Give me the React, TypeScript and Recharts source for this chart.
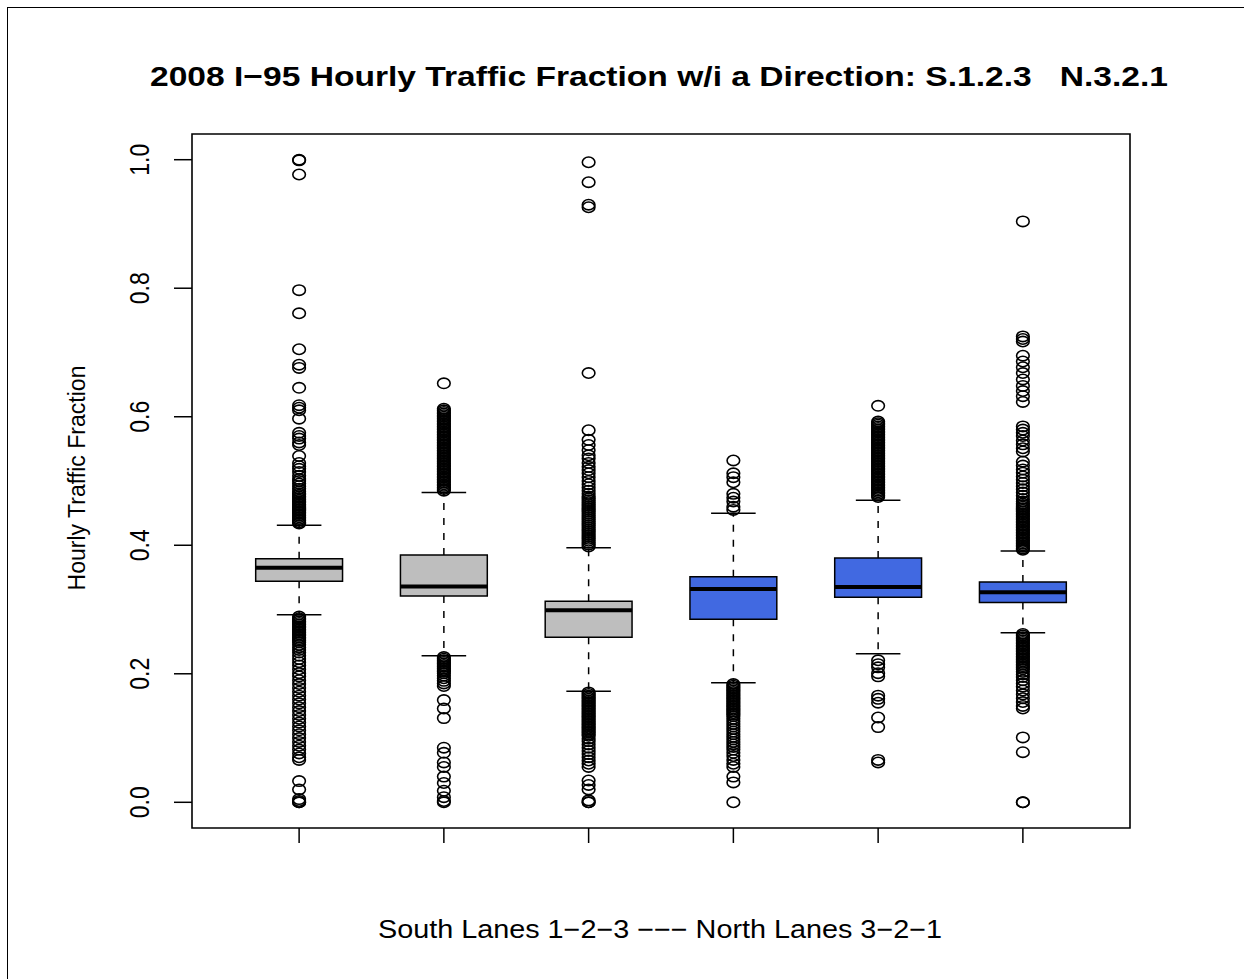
import React from 'react';
import { ScatterChart, Scatter, XAxis, YAxis, ReferenceArea, ReferenceLine } from 'recharts';

const FONT = '"Liberation Sans", Arial, Helvetica, sans-serif';

// lanes: South 1-2-3, then North 3-2-1
const GROUPS = [1, 2, 3, 4, 5, 6];
const BOX_FILL = ['#bebebe', '#bebebe', '#bebebe', '#4169e1', '#4169e1', '#4169e1'];

// box statistics per lane
const LOWER_WHISKER = [0.292, 0.228, 0.173, 0.186, 0.231, 0.264];
const Q1 = [0.344, 0.321, 0.257, 0.285, 0.319, 0.311];
const MEDIAN = [0.365, 0.336, 0.299, 0.332, 0.335, 0.327];
const Q3 = [0.379, 0.385, 0.313, 0.351, 0.380, 0.343];
const UPPER_WHISKER = [0.431, 0.482, 0.396, 0.450, 0.470, 0.391];

// outliers per lane
const OUT_S1 = [
  1.0, 0.999, 0.977, 0.797, 0.761, 0.705, 0.681, 0.676, 0.645, 0.618, 0.614, 0.61, 0.597,
  0.575, 0.57, 0.566, 0.56, 0.556, 0.539, 0.528, 0.523, 0.519, 0.514, 0.508, 0.503,
  0.5, 0.496, 0.492, 0.488, 0.484,
  0.481, 0.4785, 0.476, 0.4735, 0.471, 0.4685, 0.466, 0.4635, 0.461, 0.4585, 0.456, 0.4535,
  0.451, 0.4485, 0.446, 0.4435, 0.441, 0.4385, 0.436, 0.434,
  0.289, 0.2865, 0.284, 0.2815, 0.279, 0.2765, 0.274, 0.2715, 0.269, 0.2665, 0.264, 0.2615,
  0.259, 0.2565, 0.254, 0.2515, 0.249,
  0.245, 0.241, 0.237, 0.233, 0.228, 0.223, 0.218, 0.213, 0.207, 0.201, 0.196, 0.19, 0.184,
  0.178, 0.172, 0.166, 0.16, 0.154, 0.148, 0.142, 0.136, 0.13, 0.124, 0.118, 0.112, 0.106,
  0.1, 0.094, 0.088, 0.082, 0.076, 0.07, 0.066,
  0.033, 0.02, 0.005, 0.002, 0.0, 0.0,
];
const OUT_S2 = [
  0.652,
  0.6125, 0.61, 0.6075, 0.605, 0.6025, 0.6, 0.5975, 0.595, 0.5925, 0.59, 0.5875, 0.585,
  0.5825, 0.58, 0.5775, 0.575, 0.5725, 0.57, 0.5675, 0.565, 0.5625, 0.56, 0.5575, 0.555,
  0.5525, 0.55, 0.5475, 0.545, 0.5425, 0.54, 0.5375, 0.535, 0.5325, 0.53, 0.5275, 0.525,
  0.5225, 0.52, 0.5175, 0.515, 0.5125, 0.51, 0.5075, 0.505, 0.5025, 0.5, 0.4975, 0.495,
  0.4925, 0.49, 0.4875, 0.485,
  0.226, 0.2235, 0.221, 0.2185, 0.216, 0.2135, 0.211, 0.2085, 0.206, 0.2035, 0.201,
  0.197, 0.193, 0.189, 0.185, 0.181, 0.159, 0.146, 0.131,
  0.085, 0.077, 0.062, 0.055, 0.04, 0.03, 0.018, 0.008, 0.002, 0.0,
];
const OUT_S3 = [
  0.996, 0.965, 0.93, 0.926, 0.668, 0.579, 0.564, 0.556, 0.548, 0.54, 0.535, 0.528, 0.522,
  0.517, 0.512, 0.506, 0.5, 0.495, 0.49, 0.485, 0.48,
  0.476, 0.473, 0.47, 0.467, 0.464, 0.461, 0.458, 0.455, 0.452, 0.449, 0.446, 0.443, 0.44,
  0.437, 0.434, 0.431, 0.428, 0.425, 0.422, 0.419, 0.416, 0.413, 0.41, 0.407, 0.404, 0.401,
  0.398,
  0.171, 0.1685, 0.166, 0.1635, 0.161, 0.1585, 0.156, 0.1535, 0.151, 0.1485, 0.146, 0.1435,
  0.141, 0.1385, 0.136, 0.1335, 0.131, 0.1285, 0.126, 0.1235, 0.121, 0.1185, 0.116, 0.1135,
  0.111, 0.1085, 0.106, 0.1035,
  0.099, 0.095, 0.09, 0.085, 0.08, 0.075, 0.07, 0.065, 0.06, 0.055, 0.034, 0.027, 0.02,
  0.003, 0.0, 0.0,
];
const OUT_N3 = [
  0.532, 0.512, 0.506, 0.498, 0.48, 0.474, 0.468, 0.46, 0.455,
  0.184, 0.1815, 0.179, 0.1765, 0.174, 0.1715, 0.169, 0.1665, 0.164, 0.1615, 0.159, 0.1565,
  0.154, 0.1515, 0.149, 0.1465, 0.144, 0.1415, 0.139, 0.1365, 0.134,
  0.13, 0.126, 0.122, 0.118, 0.114, 0.11, 0.106, 0.102, 0.098, 0.094, 0.09, 0.086, 0.082,
  0.077, 0.072, 0.066, 0.06, 0.055, 0.04, 0.031, 0.0,
];
const OUT_N2 = [
  0.617,
  0.5925, 0.59, 0.5875, 0.585, 0.5825, 0.58, 0.5775, 0.575, 0.5725, 0.57, 0.5675, 0.565,
  0.5625, 0.56, 0.5575, 0.555, 0.5525, 0.55, 0.5475, 0.545, 0.5425, 0.54, 0.5375, 0.535,
  0.5325, 0.53, 0.5275, 0.525, 0.5225, 0.52, 0.5175, 0.515, 0.5125, 0.51, 0.5075, 0.505,
  0.5025, 0.5, 0.4975, 0.495, 0.4925, 0.49, 0.4875, 0.485, 0.4825, 0.48, 0.4775, 0.475,
  0.221, 0.215, 0.21, 0.201, 0.196, 0.166, 0.161, 0.155, 0.132, 0.117, 0.066, 0.062,
];
const OUT_N1 = [
  0.904, 0.725, 0.721, 0.717, 0.695, 0.686, 0.677, 0.668, 0.658, 0.648, 0.64, 0.632, 0.623,
  0.585, 0.58, 0.575, 0.57, 0.563, 0.557, 0.551, 0.546, 0.53, 0.524, 0.518, 0.513, 0.507,
  0.502, 0.497, 0.492, 0.487, 0.482, 0.477, 0.472, 0.468,
  0.465, 0.4625, 0.46, 0.4575, 0.455, 0.4525, 0.45, 0.4475, 0.445, 0.4425, 0.44, 0.4375,
  0.435, 0.4325, 0.43, 0.4275, 0.425, 0.4225, 0.42, 0.4175, 0.415, 0.4125, 0.41, 0.4075,
  0.405, 0.4025, 0.4, 0.3975, 0.395, 0.393,
  0.262, 0.2595, 0.257, 0.2545, 0.252, 0.2495, 0.247, 0.2445, 0.242, 0.2395, 0.237, 0.2345,
  0.232, 0.2295, 0.227, 0.2245, 0.222, 0.2195, 0.217, 0.2145, 0.212, 0.2095, 0.207,
  0.203, 0.199, 0.195, 0.19, 0.185, 0.18, 0.174, 0.168, 0.162, 0.156, 0.15, 0.146,
  0.101, 0.078, 0.0, 0.0,
];
const OUTLIERS = [OUT_S1, OUT_S2, OUT_S3, OUT_N3, OUT_N2, OUT_N1];

const Y_TICKS = [0, 0.2, 0.4, 0.6, 0.8, 1.0];
const X_DOMAIN = [0.26, 6.74];
const Y_DOMAIN = [-0.04, 1.04];

const BOX_HALF = 0.3;
const CAP_HALF = 0.154;

const points = GROUPS.flatMap((g, i) => OUTLIERS[i].map((v) => ({ x: g, y: v })));

function OpenCircle(props: any) {
  const { cx, cy } = props;
  if (cx == null || cy == null) return null;
  return <ellipse cx={cx} cy={cy} rx={6.3} ry={5.2} fill="none" stroke="#000" strokeWidth={1.6} />;
}

function YTick(props: any) {
  const { y, payload } = props;
  const bx = 149;
  return (
    <text
      x={bx}
      y={y}
      transform={`rotate(-90, ${bx}, ${y})`}
      textAnchor="middle"
      fontFamily={FONT}
      fontSize={27}
      textLength={32}
      lengthAdjust="spacingAndGlyphs"
      fill="#000"
    >
      {payload.value.toFixed(1)}
    </text>
  );
}

export default function App() {
  return (
    <div
      style={{
        position: 'absolute',
        left: 0,
        top: 0,
        width: 1244,
        height: 979,
        overflow: 'hidden',
        background: '#fff',
      }}
    >
      <div
        style={{
          position: 'absolute',
          left: 7,
          top: 7,
          width: 1300,
          height: 1000,
          border: '1.5px solid #000',
        }}
      />
      <ScatterChart
        width={1244}
        height={979}
        margin={{ top: 134, right: 114, left: 132, bottom: 91 }}
        style={{ position: 'absolute', left: 0, top: 0 }}
      >
        <XAxis
          type="number"
          dataKey="x"
          domain={X_DOMAIN}
          ticks={GROUPS}
          allowDataOverflow
          height={60}
          axisLine={false}
          tickSize={15}
          tickLine={{ stroke: '#000', strokeWidth: 1.5 }}
          tickFormatter={() => ''}
        />
        <YAxis
          type="number"
          dataKey="y"
          domain={Y_DOMAIN}
          ticks={Y_TICKS}
          allowDataOverflow
          width={60}
          axisLine={false}
          tickSize={18}
          tickLine={{ stroke: '#000', strokeWidth: 1.5 }}
          tick={<YTick />}
        />
        <ReferenceArea
          x1={X_DOMAIN[0]}
          x2={X_DOMAIN[1]}
          y1={Y_DOMAIN[0]}
          y2={Y_DOMAIN[1]}
          fill="none"
          stroke="#000"
          strokeWidth={1.6}
          ifOverflow="visible"
        />
        {GROUPS.map((g, i) => (
          <ReferenceLine
            key={`wu${g}`}
            segment={[{ x: g, y: Q3[i] }, { x: g, y: UPPER_WHISKER[i] }]}
            stroke="#000"
            strokeWidth={1.5}
            strokeDasharray="7 8"
          />
        ))}
        {GROUPS.map((g, i) => (
          <ReferenceLine
            key={`wl${g}`}
            segment={[{ x: g, y: Q1[i] }, { x: g, y: LOWER_WHISKER[i] }]}
            stroke="#000"
            strokeWidth={1.5}
            strokeDasharray="7 8"
          />
        ))}
        {GROUPS.map((g, i) => (
          <ReferenceLine
            key={`cu${g}`}
            segment={[{ x: g - CAP_HALF, y: UPPER_WHISKER[i] }, { x: g + CAP_HALF, y: UPPER_WHISKER[i] }]}
            stroke="#000"
            strokeWidth={1.5}
          />
        ))}
        {GROUPS.map((g, i) => (
          <ReferenceLine
            key={`cl${g}`}
            segment={[{ x: g - CAP_HALF, y: LOWER_WHISKER[i] }, { x: g + CAP_HALF, y: LOWER_WHISKER[i] }]}
            stroke="#000"
            strokeWidth={1.5}
          />
        ))}
        {GROUPS.map((g, i) => (
          <ReferenceArea
            key={`box${g}`}
            x1={g - BOX_HALF}
            x2={g + BOX_HALF}
            y1={Q1[i]}
            y2={Q3[i]}
            fill={BOX_FILL[i]}
            fillOpacity={1}
            stroke="#000"
            strokeWidth={1.5}
          />
        ))}
        {GROUPS.map((g, i) => (
          <ReferenceLine
            key={`med${g}`}
            segment={[{ x: g - BOX_HALF, y: MEDIAN[i] }, { x: g + BOX_HALF, y: MEDIAN[i] }]}
            stroke="#000"
            strokeWidth={4}
          />
        ))}
        <Scatter data={points} shape={<OpenCircle />} isAnimationActive={false} />
      </ScatterChart>
      <svg
        width={1244}
        height={979}
        style={{ position: 'absolute', left: 0, top: 0, pointerEvents: 'none' }}
      >
        <text
          x={150}
          y={86}
          fontFamily={FONT}
          fontWeight="bold"
          fontSize={28}
          textLength={1018}
          lengthAdjust="spacingAndGlyphs"
          fill="#000"
          xmlSpace="preserve"
          style={{ whiteSpace: 'pre' }}
        >
          {'2008 I−95 Hourly Traffic Fraction w/i a Direction: S.1.2.3   N.3.2.1'}
        </text>
        <text
          x={378}
          y={938}
          fontFamily={FONT}
          fontSize={25.5}
          textLength={564}
          lengthAdjust="spacingAndGlyphs"
          fill="#000"
        >
          South Lanes 1−2−3 −−− North Lanes 3−2−1
        </text>
        <text
          x={85}
          y={478}
          transform="rotate(-90, 85, 478)"
          textAnchor="middle"
          fontFamily={FONT}
          fontSize={23}
          textLength={225}
          lengthAdjust="spacingAndGlyphs"
          fill="#000"
        >
          Hourly Traffic Fraction
        </text>
      </svg>
    </div>
  );
}
